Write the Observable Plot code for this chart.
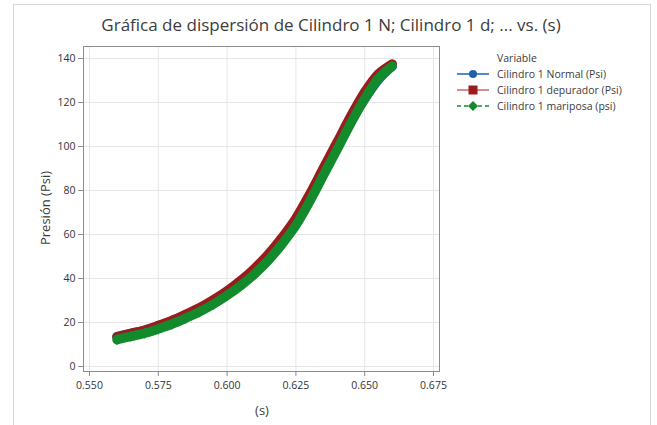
<!DOCTYPE html>
<html>
<head>
<meta charset="utf-8">
<script src="https://cdn.jsdelivr.net/npm/d3@7"></script>
<script src="https://cdn.jsdelivr.net/npm/@observablehq/plot@0.6"></script>
<style>
  html, body { margin: 0; padding: 0; background: #fff; }
  body { width: 657px; height: 425px; overflow: hidden; font-family: "Open Sans", "Noto Sans", sans-serif; }
  #wrap { position: relative; width: 657px; height: 425px; }
  #border { position: absolute; left: 13px; top: 4px; width: 638px; height: 430px; border: 1px solid #d9d9d9; box-sizing: border-box; }
  #chart { position: absolute; left: 0; top: 0; }
  #title { position: absolute; left: 0; width: 662px; top: 13px; text-align: center; font-size: 17px; color: #3c3c3c; white-space: nowrap; }
  #ylab { position: absolute; left: 45px; top: 208px; transform: translate(-50%, -50%) rotate(-90deg); font-size: 13px; color: #3c3c3c; white-space: nowrap; }
  #xlab { position: absolute; left: 262px; top: 410px; transform: translate(-50%, -50%); font-size: 13px; color: #3c3c3c; }
  #legend { position: absolute; left: 456px; top: 51px; font-size: 10.5px; color: #3c3c3c; }
  #legend .hdr { margin-left: 41px; height: 15px; line-height: 15px; }
  #legend .row { display: flex; align-items: center; height: 16px; }
  #legend svg { width: 36px; height: 14px; margin-right: 5px; }
</style>
</head>
<body>
<div id="wrap">
  <div id="border"></div>
  <div id="chart"></div>
  <div id="title">Gráfica de dispersión de Cilindro 1 N; Cilindro 1 d; ... vs. (s)</div>
  <div id="ylab">Presión (Psi)</div>
  <div id="xlab">(s)</div>
  <div id="legend"></div>
</div>
<script>
// Time (s)
const tiempo = [0.560,0.565,0.570,0.575,0.580,0.585,0.590,0.595,0.600,0.605,0.610,0.615,0.620,0.625,0.630,0.635,0.640,0.645,0.650,0.655,0.660];
// Series values (Psi)
const normal    = [13.6,15.0,16.4,18.4,20.7,23.4,26.4,29.9,33.9,38.5,43.9,50.3,57.7,66.2,76.8,88.4,99.9,111.3,121.6,130.4,136.6];
const depurador = [13.5,15.0,16.5,18.6,20.9,23.7,26.7,30.3,34.4,39.1,44.6,51.1,58.7,67.4,78.3,90.2,102.0,113.9,124.7,133.0,137.5];
const mariposa  = [12.2,13.7,15.1,17.1,19.3,22.0,24.9,28.3,32.3,36.8,42.1,48.3,55.7,64.2,75.0,86.9,98.7,110.7,121.7,131.0,136.5];
// Series names, colors, symbols
const seriesNames = ["Cilindro 1 Normal (Psi)", "Cilindro 1 depurador (Psi)", "Cilindro 1 mariposa (psi)"];
const seriesColors = ["#1f5fb0", "#9b1c1c", "#138a2c"];
const legendLineColors = ["#1f5fb0", "#c46a6a", "#138a2c"];
const seriesSymbols = ["circle", "square", "diamond"];
// Tick labels
const xTicks = [0.550, 0.575, 0.600, 0.625, 0.650, 0.675];
const yTicks = [0, 20, 40, 60, 80, 100, 120, 140];

const allSeries = [normal, depurador, mariposa];
const data = allSeries.flatMap((vals, k) => vals.map((v, i) => ({s: tiempo[i], p: v, k})));

const marks = [
  Plot.gridX(xTicks, {stroke: "#e6e6e6", strokeOpacity: 1}),
  Plot.gridY(yTicks, {stroke: "#e6e6e6", strokeOpacity: 1}),
];
allSeries.forEach((vals, k) => {
  const d = data.filter(r => r.k === k);
  marks.push(Plot.line(d, {x: "s", y: "p", stroke: seriesColors[k], strokeWidth: 9.5, strokeLinecap: "round", strokeLinejoin: "round", curve: "catmull-rom"}));
  marks.push(Plot.dot(d, {x: "s", y: "p", fill: seriesColors[k], r: 3.5, symbol: seriesSymbols[k], stroke: "none"}));
});
marks.push(Plot.frame({stroke: "#8c8c8c"}));
marks.push(Plot.axisX(xTicks, {tickFormat: d3.format(".3f"), tickSize: 5, stroke: "#8c8c8c", fill: "#333", fontSize: 10.5, tickPadding: 5, label: null}));
marks.push(Plot.axisY(yTicks, {tickSize: 5, stroke: "#8c8c8c", fill: "#333", fontSize: 10.5, tickPadding: 3, label: null}));

const chart = Plot.plot({
  width: 657,
  height: 425,
  marginLeft: 83,
  marginRight: 218,
  marginTop: 46,
  marginBottom: 54,
  style: {fontFamily: "'Open Sans', 'Noto Sans', sans-serif", background: "transparent", overflow: "visible"},
  x: {domain: [0.54782, 0.67718]},
  y: {domain: [-2.27, 145.45]},
  marks
});
document.getElementById("chart").appendChild(chart);

// Legend
const leg = document.getElementById("legend");
const hdr = document.createElement("div");
hdr.className = "hdr";
hdr.textContent = "Variable";
leg.appendChild(hdr);
const symPaths = {
  circle: '<circle cx="17" cy="7" r="4"/>',
  square: '<rect x="12.5" y="2.5" width="9" height="9"/>',
  diamond: '<polygon points="17,2 22,7 17,12 12,7"/>'
};
seriesNames.forEach((name, k) => {
  const row = document.createElement("div");
  row.className = "row";
  const dash = k === 2 ? ' stroke-dasharray="4,3"' : '';
  row.innerHTML = `<svg viewBox="0 0 36 14"><line x1="1" y1="7" x2="33" y2="7" stroke="${legendLineColors[k]}" stroke-width="1.5"${dash}/><g fill="${seriesColors[k]}">${symPaths[seriesSymbols[k]]}</g></svg><span>${name}</span>`;
  leg.appendChild(row);
});
</script>
</body>
</html>
